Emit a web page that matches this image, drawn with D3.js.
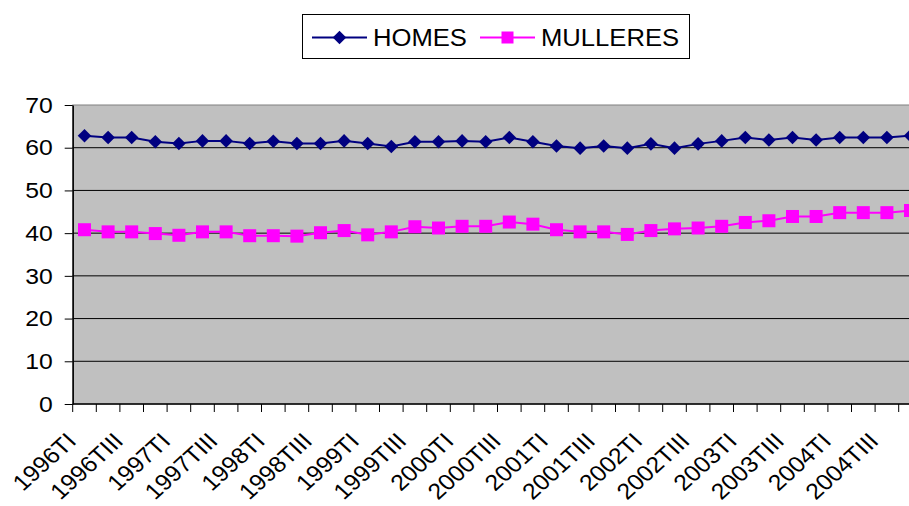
<!DOCTYPE html>
<html>
<head>
<meta charset="utf-8">
<script src="https://cdn.jsdelivr.net/npm/d3@7"></script>
<style>
  body { margin: 0; background: #fff; }
  svg { display: block; font-family: Arial, "Liberation Sans", sans-serif; }
</style>
</head>
<body>
<svg id="chart" width="909" height="506"></svg>
<script>
// quarters 1996TI .. 2004TIV
const years = ["1996", "1997", "1998", "1999", "2000", "2001", "2002", "2003", "2004"];
const quarters = ["TI", "TII", "TIII", "TIV"];
const categories = [];
years.forEach(y => quarters.forEach(q => categories.push(y + q)));

const homes = [62.8, 62.4, 62.4, 61.4, 61.0, 61.6, 61.6, 61.0, 61.5, 61.0, 61.0, 61.6,
               61.0, 60.3, 61.4, 61.4, 61.6, 61.4, 62.4, 61.4, 60.4, 59.9, 60.4, 59.9,
               60.9, 59.9, 60.9, 61.6, 62.4, 61.8, 62.4, 61.8, 62.4, 62.4, 62.4, 62.8];
const mulleres = [40.8, 40.3, 40.3, 39.9, 39.5, 40.3, 40.3, 39.4, 39.4, 39.3, 40.1, 40.6,
                  39.6, 40.3, 41.5, 41.2, 41.6, 41.6, 42.6, 42.1, 40.8, 40.3, 40.3, 39.7,
                  40.6, 41.0, 41.2, 41.6, 42.5, 42.9, 43.9, 43.9, 44.8, 44.8, 44.8, 45.3];
const yTicks = [0, 10, 20, 30, 40, 50, 60, 70];

const svg = d3.select("#chart");
const plot = {left: 72.7, top: 105, bottom: 404, band: 23.6};
plot.right = plot.left + plot.band * categories.length;
const stretch = 1.1; // text in the original is a bit wider than tall

const x = d3.scaleBand()
    .domain(categories)
    .range([plot.left, plot.right]);
const y = d3.scaleLinear()
    .domain([0, 70])
    .range([plot.bottom, plot.top]);
const cx = d => x(d) + x.bandwidth() / 2;

// plot area
svg.append("rect")
    .attr("x", plot.left)
    .attr("y", plot.top)
    .attr("width", plot.right - plot.left)
    .attr("height", plot.bottom - plot.top)
    .attr("fill", "#c0c0c0")
    .attr("stroke", "#808080")
    .attr("stroke-width", 1);

// gridlines
svg.append("g")
    .selectAll("line")
    .data(yTicks.filter(t => t > 0 && t < 70))
    .join("line")
    .attr("x1", plot.left)
    .attr("x2", plot.right)
    .attr("y1", d => y(d))
    .attr("y2", d => y(d))
    .attr("stroke", "#000")
    .attr("stroke-width", 1);

// y axis
const yAxis = svg.append("g")
    .attr("transform", "translate(" + plot.left + ",0)")
    .call(d3.axisLeft(y).tickValues(yTicks).tickSize(8).tickSizeOuter(0));
yAxis.select(".domain").attr("stroke", "#000").attr("stroke-width", 1.5);
yAxis.selectAll(".tick line").attr("stroke", "#000");
yAxis.selectAll("text")
    .attr("x", null)
    .attr("transform", "translate(-20,0) scale(" + stretch + ",1)")
    .attr("font-size", 22.5)
    .attr("font-family", "Arial, 'Liberation Sans', sans-serif")
    .attr("fill", "#000");

// x axis: ticks between categories
const xAxis = svg.append("g")
    .attr("transform", "translate(0," + plot.bottom + ")");
xAxis.append("line")
    .attr("x1", plot.left)
    .attr("x2", plot.right)
    .attr("stroke", "#000")
    .attr("stroke-width", 1.5);
xAxis.selectAll("line.tk")
    .data(categories)
    .join("line")
    .attr("class", "tk")
    .attr("x1", d => x(d))
    .attr("x2", d => x(d))
    .attr("y1", 0)
    .attr("y2", 8)
    .attr("stroke", "#000");
xAxis.selectAll("text")
    .data(categories.filter((d, i) => i % 2 === 0))
    .join("text")
    .attr("transform", d => "translate(" + (cx(d) - 7) + ",38.5) scale(" + stretch + ",1) rotate(-45)")
    .attr("text-anchor", "end")
    .attr("font-size", 22.5)
    .attr("fill", "#000")
    .text(d => d);

// lines
const line = d3.line()
    .x((d, i) => cx(categories[i]))
    .y(d => y(d));

svg.append("path")
    .datum(homes)
    .attr("d", line)
    .attr("fill", "none")
    .attr("stroke", "#000080")
    .attr("stroke-width", 2);

svg.append("path")
    .datum(mulleres)
    .attr("d", line)
    .attr("fill", "none")
    .attr("stroke", "#ff00ff")
    .attr("stroke-width", 2);

const diamond = d3.symbol().type(d3.symbolSquare).size(92);

svg.append("g")
    .selectAll("path")
    .data(homes)
    .join("path")
    .attr("d", diamond)
    .attr("transform", (d, i) => "translate(" + cx(categories[i]) + "," + y(d) + ") rotate(45)")
    .attr("fill", "#000080");

svg.append("g")
    .selectAll("rect")
    .data(mulleres)
    .join("rect")
    .attr("x", (d, i) => cx(categories[i]) - 6.5)
    .attr("y", d => y(d) - 6.5)
    .attr("width", 13)
    .attr("height", 13)
    .attr("fill", "#ff00ff");

// legend
const legend = svg.append("g");
legend.append("rect")
    .attr("x", 302.5)
    .attr("y", 14.5)
    .attr("width", 387)
    .attr("height", 44)
    .attr("fill", "#fff")
    .attr("stroke", "#000")
    .attr("stroke-width", 1);

const items = [
    {name: "HOMES", color: "#000080", x0: 312, type: "diamond"},
    {name: "MULLERES", color: "#ff00ff", x0: 480, type: "square"}
];
items.forEach(it => {
    legend.append("line")
        .attr("x1", it.x0)
        .attr("x2", it.x0 + 55)
        .attr("y1", 37.5)
        .attr("y2", 37.5)
        .attr("stroke", it.color)
        .attr("stroke-width", 2);
    if (it.type === "diamond") {
        legend.append("path")
            .attr("d", diamond)
            .attr("transform", "translate(" + (it.x0 + 27.5) + ",37.5) rotate(45)")
            .attr("fill", it.color);
    } else {
        legend.append("rect")
            .attr("x", it.x0 + 21.5)
            .attr("y", 31.5)
            .attr("width", 12)
            .attr("height", 12)
            .attr("fill", it.color);
    }
    legend.append("text")
        .attr("transform", "translate(" + (it.x0 + 61) + ",45.5) scale(" + stretch + ",1)")
        .attr("font-size", 23.3)
        .attr("fill", "#000")
        .text(it.name);
});
</script>
</body>
</html>
